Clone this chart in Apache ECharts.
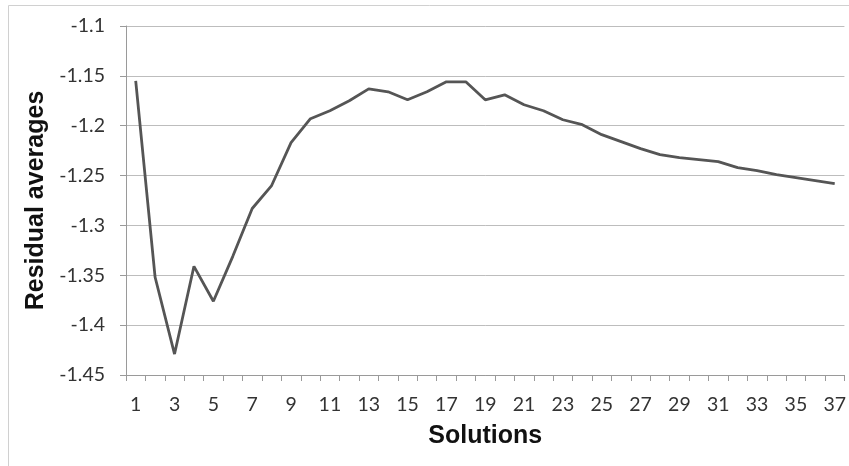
<!DOCTYPE html>
<html>
<head>
<meta charset="utf-8">
<script src="https://cdn.jsdelivr.net/npm/echarts@6/dist/echarts.min.js"></script>
<style>
  html, body { margin: 0; padding: 0; background: #fff; }
  #chart { width: 849px; height: 466px; }
</style>
</head>
<body>
<div id="chart"></div>
<script>
// Solution numbers along the x axis
const solutions = [];
for (let i = 1; i <= 37; i++) solutions.push(String(i));

// Residual average for each solution
const residualAverages = [
  -1.155, -1.352, -1.429, -1.341, -1.376, -1.331, -1.283, -1.260, -1.217, -1.193,
  -1.185, -1.175, -1.163, -1.166, -1.174, -1.166, -1.156, -1.156, -1.174, -1.169,
  -1.179, -1.185, -1.194, -1.199, -1.209, -1.216, -1.223, -1.229, -1.232, -1.234,
  -1.236, -1.242, -1.245, -1.249, -1.252, -1.255, -1.258
];

// Value axis range and step
const yMin = -1.45;
const yMax = -1.1;
const yStep = 0.05;

const chart = echarts.init(document.getElementById('chart'));

chart.setOption({
  animation: false,
  backgroundColor: '#fff',
  graphic: [{
    type: 'rect',
    shape: { x: 8.5, y: 5.5, width: 845, height: 470 },
    style: { fill: 'none', stroke: '#d0d0d0', lineWidth: 1 },
    silent: true
  }],
  grid: { left: 126, right: 2, top: 26, bottom: 91, containLabel: false },
  xAxis: {
    type: 'category',
    data: solutions,
    boundaryGap: true,
    name: 'Solutions',
    nameLocation: 'middle',
    nameGap: 49,
    nameTextStyle: { fontFamily: 'Liberation Sans', fontWeight: 'bold', fontSize: 25, color: '#111' },
    axisLine: { lineStyle: { color: '#9a9a9a', width: 1 } },
    axisTick: { show: true, interval: 0, length: 6, lineStyle: { color: '#9a9a9a' } },
    axisLabel: { interval: 1, margin: 20, fontFamily: 'Lato', fontSize: 19.5, color: '#333' },
    splitLine: { show: false }
  },
  yAxis: {
    type: 'value',
    min: yMin,
    max: yMax,
    interval: yStep,
    name: 'Residual averages',
    nameLocation: 'middle',
    nameGap: 74,
    nameRotate: 90,
    nameTextStyle: { fontFamily: 'Liberation Sans', fontWeight: 'bold', fontSize: 25, color: '#111' },
    axisLine: { show: true, lineStyle: { color: '#9a9a9a', width: 1 } },
    axisTick: { show: true, length: 6, lineStyle: { color: '#9a9a9a' } },
    axisLabel: {
      margin: 21,
      fontFamily: 'Lato',
      fontSize: 19.5,
      color: '#333',
      formatter: v => String(parseFloat(v.toFixed(2)))
    },
    splitLine: { show: true, lineStyle: { color: '#bdbdbd', width: 1 } }
  },
  series: [{
    type: 'line',
    data: residualAverages,
    symbol: 'none',
    lineStyle: { color: '#555', width: 2.8 },
    z: 3
  }]
});
</script>
</body>
</html>
